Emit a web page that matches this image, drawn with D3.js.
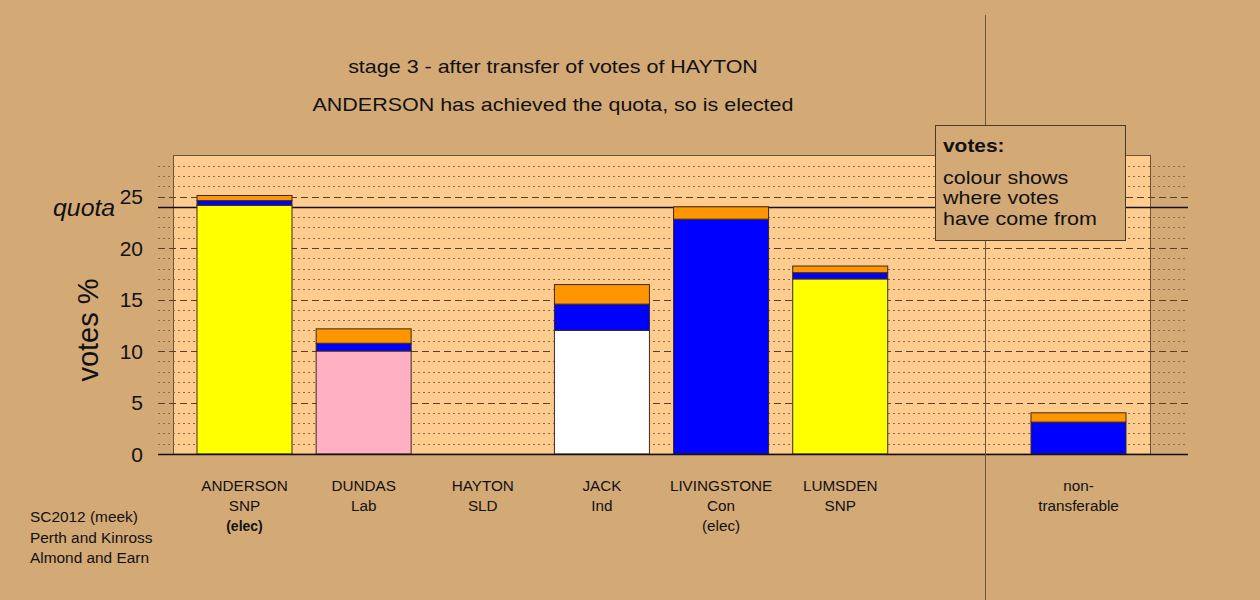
<!DOCTYPE html>
<html><head><meta charset="utf-8">
<script src="https://cdn.jsdelivr.net/npm/d3@7"></script>
<style>
html,body{margin:0;padding:0;background:#D3A976;}
svg{display:block;font-family:"Liberation Sans",Arial,sans-serif;}
</style></head>
<body>
<svg id="chart" width="1260" height="600"></svg>
<script>
// ---- data ----
const candidates = ["ANDERSON","DUNDAS","HAYTON","JACK","LIVINGSTONE","LUMSDEN","","non-"];
const parties    = ["SNP","Lab","SLD","Ind","Con","SNP","","transferable"];
const status     = ["(elec)","","","","(elec)","","",""];
const slotIndex  = [0,1,2,3,4,5,6,7];
// stacked segments (bottom → top) for each slot
const baseColour = ["#FFFF00","#FFB0C2","#FFFF00","#FFFFFF","#0000FF","#FFFF00","#FFFFFF","#0000FF"];
const baseVotes  = [24.15,10.0,0,12.0,22.8,17.0,0,3.1];
const blueVotes  = [0.45,0.75,0,2.55,0,0.6,0,0];
const orangeVotes= [0.5,1.4,0,1.9,1.2,0.65,0,0.9];
const quota = 24.0;
const yTicks = [0,5,10,15,20,25];
const titleLines = ["stage 3 - after transfer of votes of HAYTON","ANDERSON has achieved the quota, so is elected"];
const legendLines = ["colour shows","where votes","have come from"];
const footLines = ["SC2012 (meek)","Perth and Kinross","Almond and Earn"];

// ---- helpers ----
function widen(sel, f){
  sel.each(function(){
    const w = this.getComputedTextLength();
    if(w>0) d3.select(this).attr("textLength", w*f).attr("lengthAdjust","spacingAndGlyphs");
  });
  return sel;
}

// ---- scales ----
const svg = d3.select("#chart");
const yScale = d3.scaleLinear().domain([0,29]).range([454,155.3]);
const xScale = d3.scaleLinear().domain([0,7]).range([244.5,1078.5]);
const barW = 95;
const panelL = 173, panelR = 1150;
const gridL = 158, gridR = 1188;

// panel
svg.append("rect").attr("x",panelL+0.5).attr("y",Math.round(yScale(29))+0.5).attr("width",panelR-panelL)
  .attr("height",yScale(0)-yScale(29)).attr("fill","#FFCC90").attr("stroke","#6b5236").attr("stroke-width",1);

// gridlines
const gridVals = d3.range(1,29);
svg.append("g").selectAll("line").data(gridVals).join("line")
  .attr("x1",gridL).attr("x2",gridR)
  .attr("y1",d=>Math.round(yScale(d))+0.5).attr("y2",d=>Math.round(yScale(d))+0.5)
  .attr("stroke",d=>d%5===0?"#5a4026":"#8c6e4e")
  .attr("stroke-width",1)
  .attr("stroke-dasharray",d=>d%5===0?"7,4":"2,3");

// quota line
svg.append("line").attr("x1",gridL).attr("x2",gridR)
  .attr("y1",Math.round(yScale(quota))+0.5).attr("y2",Math.round(yScale(quota))+0.5)
  .attr("stroke","#111").attr("stroke-width",1.3);

// bars
const segs = [];
slotIndex.forEach(i=>{
  let b=0;
  [[baseVotes[i],baseColour[i]],[blueVotes[i],"#0000FF"],[orangeVotes[i],"#FF9500"]].forEach(([v,c])=>{
    if(v>0){segs.push({i,y0:b,y1:b+v,c}); b+=v;}
  });
});
svg.append("g").selectAll("rect").data(segs).join("rect")
  .attr("x",d=>xScale(d.i)-barW/2).attr("width",barW)
  .attr("y",d=>yScale(d.y1)).attr("height",d=>yScale(d.y0)-yScale(d.y1))
  .attr("fill",d=>d.c).attr("stroke","#3a2a1a").attr("stroke-width",1);

// baseline
svg.append("line").attr("x1",gridL).attr("x2",gridR).attr("y1",454.5).attr("y2",454.5)
  .attr("stroke","#111").attr("stroke-width",1.3);

// separator line
svg.append("line").attr("x1",985.5).attr("x2",985.5).attr("y1",15).attr("y2",600)
  .attr("stroke","#6a5540").attr("stroke-width",1);

// y tick labels
svg.append("g").selectAll("text").data(yTicks).join("text")
  .attr("x",143).attr("y",d=>yScale(d)+7.5).attr("text-anchor","end")
  .attr("font-size",21).attr("fill","#111").text(d=>d);
widen(svg.append("text").attr("x",53).attr("y",yScale(quota)+9)
  .attr("font-size",23).attr("font-style","italic").attr("fill","#111").text("quota"), 1.08);
svg.append("text").attr("transform","translate(98,330) rotate(-90)").attr("text-anchor","middle")
  .attr("font-size",29).attr("fill","#111").text("votes %");

// titles
widen(svg.append("g").selectAll("text").data(titleLines).join("text")
  .attr("x",553).attr("y",(d,i)=>72.5+i*38.5).attr("text-anchor","middle")
  .attr("font-size",19).attr("fill","#111").text(d=>d), 1.13);

// x labels
slotIndex.forEach(i=>{
  const g = svg.append("g").attr("font-size",14).attr("fill","#111").attr("text-anchor","middle");
  widen(g.append("text").attr("x",xScale(i)).attr("y",490.5).text(candidates[i]),1.09);
  widen(g.append("text").attr("x",xScale(i)).attr("y",511).text(parties[i]),1.09);
  if(status[i]) widen(g.append("text").attr("x",xScale(i)).attr("y",531)
     .attr("font-weight",i===0?"bold":"normal").text(status[i]),i===0?1.0:1.09);
});

// footer
widen(svg.append("g").selectAll("text").data(footLines).join("text")
  .attr("x",30).attr("y",(d,i)=>522+i*20.5).attr("font-size",14).attr("fill","#111").text(d=>d),1.1);

// legend
svg.append("rect").attr("x",935.5).attr("y",125.5).attr("width",190).attr("height",115)
  .attr("fill","#D3A976").attr("stroke","#4a3a2a").attr("stroke-width",1);
widen(svg.append("text").attr("x",943).attr("y",151.5).attr("font-size",19).attr("font-weight","bold")
  .attr("fill","#111").text("votes:"),1.1);
widen(svg.append("g").selectAll("text").data(legendLines).join("text")
  .attr("x",943).attr("y",(d,i)=>183.5+i*20.5).attr("font-size",19).attr("fill","#111").text(d=>d),1.13);
</script>
</body></html>
